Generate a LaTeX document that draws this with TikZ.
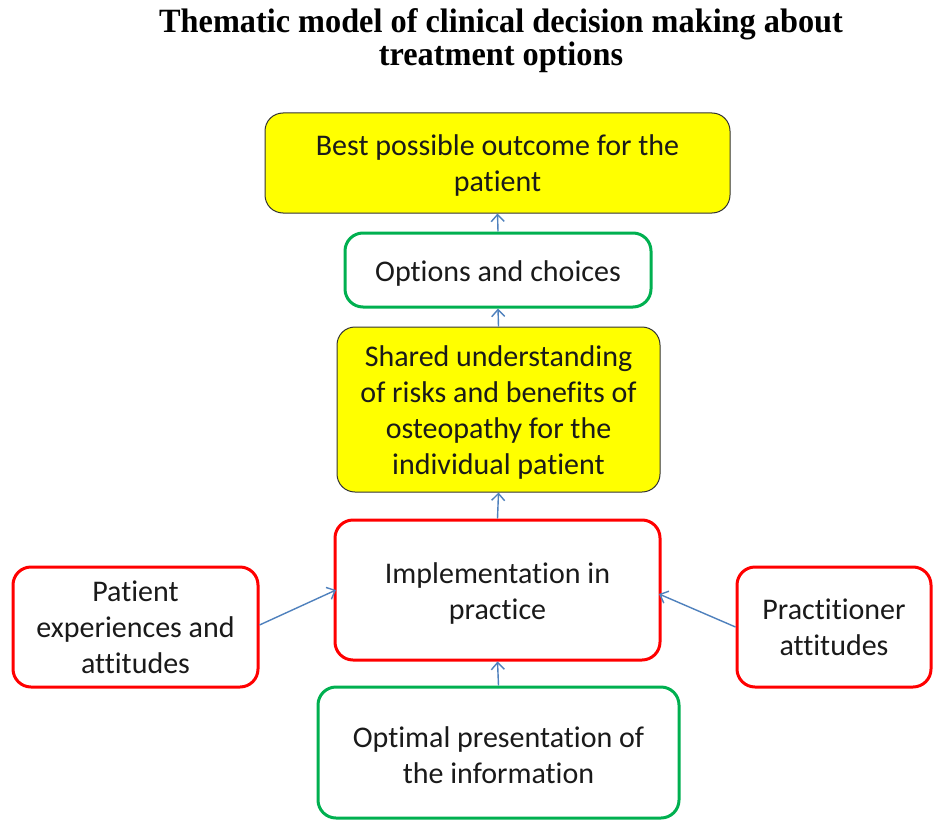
\documentclass[tikz,border=0pt]{standalone}
\usepackage{fontspec}
\setmainfont{Carlito}[Ligatures=NoCommon]
\newfontfamily\titlefont{Liberation Serif}
\usetikzlibrary{arrows.meta}
\definecolor{boxyellow}{HTML}{FFFF00}
\definecolor{boxgreen}{HTML}{00B050}
\definecolor{boxred}{HTML}{FF0000}
\definecolor{linkblue}{HTML}{4F81BD}
\definecolor{txt}{HTML}{1A1A1A}
\tikzset{
  box/.style={rectangle, rounded corners=18pt, inner sep=0pt},
  goalbox/.style={box, draw=black!80, line width=1pt, fill=boxyellow},
  greenbox/.style={box, draw=boxgreen, line width=3pt, fill=white},
  redbox/.style={box, draw=boxred, line width=3pt, fill=white},
  boxtext/.style={align=center, text=txt, inner sep=0pt,
    font=\fontsize{30}{36}\selectfont},
  link/.style={draw=linkblue, line width=1.4pt,
    -{Straight Barb[length=7pt,width=13pt,line width=1.4pt]}}
}
\begin{document}
\begin{tikzpicture}[x=1pt,y=-1pt]
\useasboundingbox[fill=white] (0,0) rectangle (933,821);

% title
\node (title) at (501,41) [align=center, text=black,
  font=\titlefont\bfseries\fontsize{34}{33}\selectfont, xscale=0.95]
  {Thematic model of clinical decision making about\\ treatment options};

% box outlines
\node (outcome) [goalbox, minimum width=465pt, minimum height=100pt] at (497.5,163) {};
\node (options) [greenbox, minimum width=306pt, minimum height=74pt] at (498,270) {};
\node (shared) [goalbox, minimum width=323pt, minimum height=165pt] at (498.5,409.5) {};
\node (impl) [redbox, minimum width=325pt, minimum height=140pt] at (497.5,590) {};
\node (patient) [redbox, minimum width=245pt, minimum height=120pt] at (135.5,627) {};
\node (pract) [redbox, minimum width=194pt, minimum height=120pt] at (834,627) {};
\node (present) [greenbox, minimum width=361pt, minimum height=131pt] at (498.5,752.5) {};

% box texts
\node (outcometext) [boxtext] at ([yshift=-3pt]outcome.center)
  {Best possible outcome for the\\ patient};
\node (optionstext) [boxtext] at ([yshift=-3pt]options.center)
  {Options and choices};
\node (sharedtext) [boxtext] at ([yshift=-2.5pt]shared.center)
  {Shared understanding\\ of risks and benefits of\\ osteopathy for the\\ individual patient};
\node (impltext) [boxtext] at ([yshift=-3pt]impl.center)
  {Implementation in\\ practice};
\node (patienttext) [boxtext] at ([yshift=0pt]patient.center)
  {Patient\\ experiences and\\ attitudes};
\node (practtext) [boxtext] at ([yshift=0pt]pract.center)
  {Practitioner\\ attitudes};
\node (presenttext) [boxtext] at ([yshift=-3pt]present.center)
  {Optimal presentation of\\ the information};

% connectors
\draw[link] (options.north) -- (outcome.south);
\draw[link] (shared.north) -- (options.south);
\draw[link] (impl.north) -- (shared.south);
\draw[link] (present.north) -- (impl.south);
\coordinate (pin) at (336,590);
\coordinate (prin) at (659,594);
\draw[link] (patient.east |- 0,625) -- (pin);
\draw[link] (pract.west |- 0,627) -- (prin);
\end{tikzpicture}
\end{document}
